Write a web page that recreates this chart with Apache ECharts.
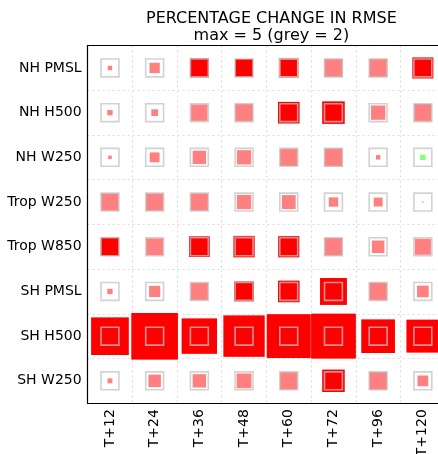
<!DOCTYPE html>
<html>
<head>
<meta charset="utf-8">
<script src="https://cdn.jsdelivr.net/npm/echarts@6/dist/echarts.min.js"></script>
<style>html,body{margin:0;padding:0;background:#fff;}#c{width:438px;height:454px;}</style>
</head>
<body>
<div id="c"></div>
<script>
const rows = ['NH PMSL','NH H500','NH W250','Trop W250','Trop W850','SH PMSL','SH H500','SH W250'];
const cols = ['T+12','T+24','T+36','T+48','T+60','T+72','T+96','T+120'];
const maxVal = 5;
const greyVal = 2;
// percentage change (size of pale square; negative = improvement)
const chNHPMSL  = [0.5, 1.15, 2.1, 2.0, 2.25, 2.05, 2.05, 2.4];
const chNHH500  = [0.6, 0.75, 1.85, 2.0, 2.4, 2.5, 1.6, 1.95];
const chNHW250  = [0.4, 1.1, 1.5, 1.6, 1.95, 2.05, 0.5, -0.6];
const chTrW250  = [1.95, 1.95, 1.95, 1.6, 1.55, 1.05, 1.0, -0.2];
const chTrW850  = [2.05, 1.9, 2.3, 2.45, 2.35, 2.0, 1.4, 1.8];
const chSHPMSL  = [0.6, 1.25, 1.95, 2.2, 2.4, 3.0, 2.0, 1.3];
const chSHH500  = [4.2, 5.2, 3.95, 4.6, 4.9, 5.0, 3.75, 3.65];
const chSHW250  = [0.55, 1.4, 1.5, 1.65, 1.95, 2.5, 2.0, 1.2];
// significant part (dark square), 0 = none
const sgNHPMSL  = [0, 0, 2.1, 2.0, 1.9, 0, 0, 2.3];
const sgNHH500  = [0, 0, 0, 0, 2.4, 2.5, 0, 0];
const sgNHW250  = [0, 0, 0, 0, 0, 0, 0, 0];
const sgTrW250  = [0, 0, 0, 0, 0, 0, 0, 0];
const sgTrW850  = [2.05, 0, 2.3, 2.3, 2.35, 0, 0, 0];
const sgSHPMSL  = [0, 0, 0, 2.2, 2.4, 3.0, 0, 0];
const sgSHH500  = [4.2, 5.2, 3.95, 4.6, 4.9, 5.0, 3.75, 3.65];
const sgSHW250  = [0, 0, 0, 0, 0, 2.5, 0, 0];

const changes = [chNHPMSL, chNHH500, chNHW250, chTrW250, chTrW850, chSHPMSL, chSHH500, chSHW250];
const signif  = [sgNHPMSL, sgNHH500, sgNHW250, sgTrW250, sgTrW850, sgSHPMSL, sgSHH500, sgSHW250];

const gridLeft = 87.6, gridTop = 45.6, gridW = 357.6, gridH = 357.6;
const cell = gridW / cols.length;
const sz = v => Math.abs(v) / maxVal * cell;

const paleData = [], darkData = [], greyData = [];
changes.forEach((r, j) => r.forEach((v, i) => {
  paleData.push({value: [i, j, v], itemStyle: {color: v >= 0 ? '#ff8080' : '#80ff80', opacity: 1}});
  const d = signif[j][i];
  if (d) darkData.push({value: [i, j, d], itemStyle: {color: d >= 0 ? '#ff0000' : '#00ff00', opacity: 1}});
  greyData.push([i, j, greyVal]);
}));

const chart = echarts.init(document.getElementById('c'), null, {renderer: 'canvas'});
const font = 'DejaVu Sans';
const blackLine = {show: true, lineStyle: {color: '#000', width: 1.2}};
const gridSplit = {show: true, interval: 0, lineStyle: {color: '#dcdcdc', type: [2, 3], width: 1.2}};
chart.setOption({
  animation: false,
  title: {
    text: 'PERCENTAGE CHANGE IN RMSE\nmax = 5 (grey = 2)',
    left: gridLeft + gridW / 2, textAlign: 'center', top: 5,
    textStyle: {fontFamily: font, fontSize: 16, fontWeight: 'normal', color: '#000', lineHeight: 17}
  },
  grid: {left: gridLeft, top: gridTop, width: gridW, height: gridH, show: false,
         containLabel: false, outerBoundsMode: 'none'},
  xAxis: [
    {type: 'category', data: cols, boundaryGap: true, position: 'bottom', z: 10,
     axisLine: blackLine, axisTick: {show: false},
     axisLabel: {rotate: 90, margin: 6, fontFamily: font, fontSize: 14, color: '#000', interval: 0},
     splitLine: {show: false}},
    {type: 'category', data: cols, boundaryGap: true, position: 'top', z: 10,
     axisLine: blackLine, axisTick: {show: false}, axisLabel: {show: false}, splitLine: {show: false}},
    {type: 'category', data: cols, boundaryGap: true, position: 'top', z: 0,
     axisLine: {show: false}, axisTick: {show: false}, axisLabel: {show: false}, splitLine: gridSplit}
  ],
  yAxis: [
    {type: 'category', data: rows, inverse: true, boundaryGap: true, position: 'left', z: 10,
     axisLine: blackLine, axisTick: {show: false},
     axisLabel: {margin: 6, fontFamily: font, fontSize: 14, color: '#000', interval: 0},
     splitLine: {show: false}},
    {type: 'category', data: rows, inverse: true, boundaryGap: true, position: 'right', z: 0,
     axisLine: {show: false}, axisTick: {show: false}, axisLabel: {show: false}, splitLine: gridSplit}
  ],
  series: [
    {type: 'scatter', symbol: 'rect', data: paleData, symbolSize: v => sz(v[2]), silent: true, z: 2, itemStyle: {opacity: 1}},
    {type: 'scatter', symbol: 'rect', data: darkData, symbolSize: v => sz(v[2]), silent: true, z: 3, itemStyle: {opacity: 1}},
    {type: 'scatter', symbol: 'rect', data: greyData, symbolSize: v => sz(v[2]), silent: true, z: 4,
     itemStyle: {color: 'transparent', borderColor: 'rgba(195,195,195,0.75)', borderWidth: 1.6, opacity: 1}}
  ]
});
</script>
</body>
</html>
